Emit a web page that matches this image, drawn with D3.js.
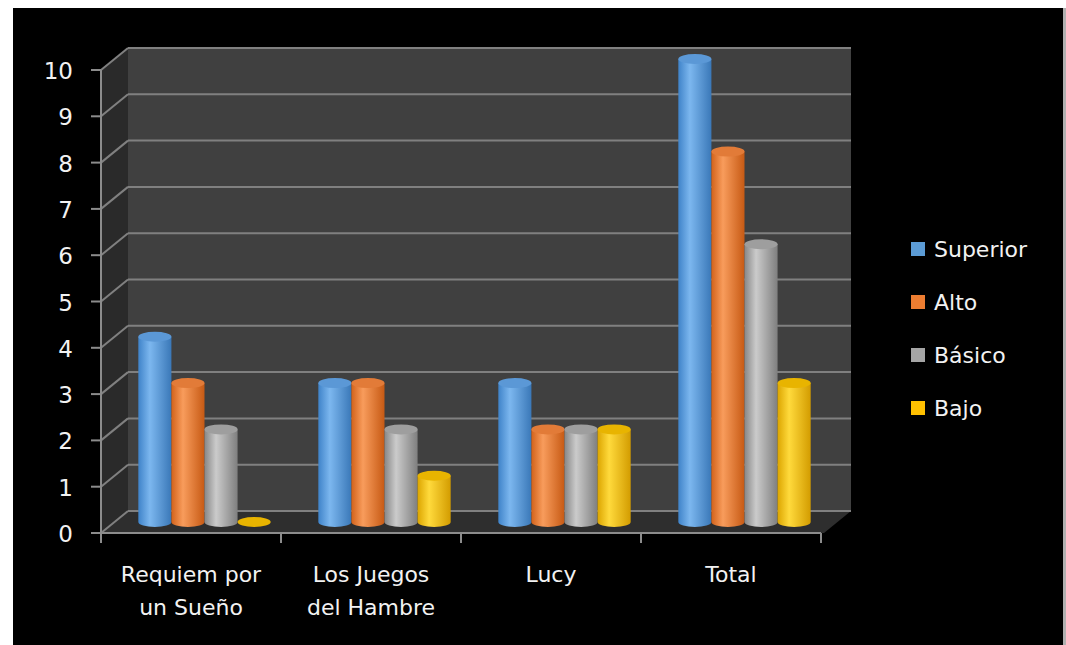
<!DOCTYPE html>
<html>
<head>
<meta charset="utf-8">
<script src="https://cdn.jsdelivr.net/npm/d3@7"></script>
<style>
  body { margin: 0; background: #ffffff; }
  text { font-family: "DejaVu Sans", "Open Sans", sans-serif; fill: #f2f2f2; }
</style>
</head>
<body>
<div id="chart"></div>
<script>
// chart data
var categories = [["Requiem por", "un Sueño"], ["Los Juegos", "del Hambre"], ["Lucy"], ["Total"]];
var seriesNames = ["Superior", "Alto", "Básico", "Bajo"];
var superior = [4, 3, 3, 10];
var alto = [3, 3, 2, 8];
var basico = [2, 2, 2, 6];
var bajo = [0, 1, 2, 3];
var yTicks = [0, 1, 2, 3, 4, 5, 6, 7, 8, 9, 10];

var seriesValues = [superior, alto, basico, bajo];

// colours: [edge, highlight, dark edge, top]
var palette = [
  ["#3f83c9", "#7cb7ef", "#3a78b8", "#5b98d6"],
  ["#d2621a", "#f89c5c", "#c75a14", "#e27b38"],
  ["#878787", "#cbcbcb", "#7f7f7f", "#9e9e9e"],
  ["#dca500", "#ffda3c", "#d39c00", "#e8b400"]
];
var legendColors = ["#5b9bd5", "#ed7d31", "#a5a5a5", "#ffc000"];

var svgWidth = 1066;
var svgHeight = 645;

// 3D depth offset of the plot box
var depthX = 27;
var depthY = -22;

var svg = d3.select("#chart")
  .append("svg")
  .attr("width", svgWidth)
  .attr("height", svgHeight);

// black chart background
svg.append("rect")
  .attr("x", 13).attr("y", 8)
  .attr("width", 1050).attr("height", 637)
  .attr("fill", "#000000");
svg.append("rect")
  .attr("x", 1063).attr("y", 8)
  .attr("width", 3).attr("height", 637)
  .attr("fill", "#b0b0b0");

// scales (front plane)
var xScale = d3.scaleBand()
  .domain(d3.range(categories.length))
  .range([101, 821]);

var yScale = d3.scaleLinear()
  .domain([0, 10])
  .range([533, 70]);

var x0 = xScale.range()[0], x1 = xScale.range()[1];
var yTop = yScale(10), yBot = yScale(0);

// walls
svg.append("polygon")
  .attr("points", [[x0, yTop], [x0 + depthX, yTop + depthY], [x0 + depthX, yBot + depthY], [x0, yBot]].join(" "))
  .attr("fill", "#2a2a2a");
svg.append("polygon")
  .attr("points", [[x0 + depthX, yTop + depthY], [x1 + depthX + 3, yTop + depthY], [x1 + depthX + 3, yBot + depthY], [x0 + depthX, yBot + depthY]].join(" "))
  .attr("fill", "#404040");
svg.append("polygon")
  .attr("points", [[x0, yBot], [x0 + depthX, yBot + depthY], [x1 + depthX + 3, yBot + depthY], [x1 + 3, yBot]].join(" "))
  .attr("fill", "#2e2e2e");

// gridlines on back and side wall
var grid = svg.append("g").attr("stroke", "#808080").attr("stroke-width", 2);
grid.selectAll("line.back")
  .data(yTicks)
  .enter()
  .append("line")
  .attr("x1", x0 + depthX).attr("x2", x1 + depthX + 3)
  .attr("y1", d => yScale(d) + depthY).attr("y2", d => yScale(d) + depthY);
grid.selectAll("line.side")
  .data(yTicks)
  .enter()
  .append("line")
  .attr("x1", x0).attr("x2", x0 + depthX)
  .attr("y1", d => yScale(d)).attr("y2", d => yScale(d) + depthY);

// axes
var axisColor = "#8c8c8c";
svg.append("line")
  .attr("x1", x0).attr("x2", x0)
  .attr("y1", yTop).attr("y2", yBot)
  .attr("stroke", axisColor).attr("stroke-width", 2);
svg.append("line")
  .attr("x1", x0 - 10).attr("x2", x1)
  .attr("y1", yBot).attr("y2", yBot)
  .attr("stroke", axisColor).attr("stroke-width", 2);

svg.selectAll("line.ytick")
  .data(yTicks)
  .enter()
  .append("line")
  .attr("x1", x0 - 10).attr("x2", x0)
  .attr("y1", d => yScale(d)).attr("y2", d => yScale(d))
  .attr("stroke", axisColor).attr("stroke-width", 2);

svg.selectAll("text.ylabel")
  .data(yTicks)
  .enter()
  .append("text")
  .attr("x", 73)
  .attr("y", d => yScale(d) + 9)
  .attr("text-anchor", "end")
  .style("font-size", "23px")
  .text(d => d);

var xTickPos = d3.range(categories.length).map(i => xScale(i)).concat([x1]);
svg.selectAll("line.xtick")
  .data(xTickPos)
  .enter()
  .append("line")
  .attr("x1", d => d).attr("x2", d => d)
  .attr("y1", yBot).attr("y2", yBot + 10)
  .attr("stroke", axisColor).attr("stroke-width", 2);

// category labels
var catLabels = svg.selectAll("text.cat")
  .data(categories)
  .enter()
  .append("text")
  .attr("text-anchor", "middle")
  .style("font-size", "22px")
  .attr("transform", (d, i) => `translate(${xScale(i) + xScale.bandwidth() / 2}, 582)`);
catLabels.selectAll("tspan")
  .data(d => d)
  .enter()
  .append("tspan")
  .attr("x", 0)
  .attr("y", (d, i) => i * 33)
  .text(d => d);

// gradients for cylinders
var defs = svg.append("defs");
palette.forEach(function(c, i) {
  var g = defs.append("linearGradient")
    .attr("id", "cyl" + i)
    .attr("x1", "0%").attr("x2", "100%")
    .attr("y1", "0%").attr("y2", "0%");
  g.append("stop").attr("offset", "0%").attr("stop-color", c[0]);
  g.append("stop").attr("offset", "35%").attr("stop-color", c[1]);
  g.append("stop").attr("offset", "100%").attr("stop-color", c[2]);
});

// bars as cylinders placed at mid depth
var inner = d3.scaleBand()
  .domain(d3.range(seriesNames.length))
  .range([0, xScale.bandwidth()])
  .paddingOuter(0.72)
  .paddingInner(0);

var barW = inner.bandwidth();
var ry = 5;

var barData = [];
categories.forEach(function(cat, ci) {
  seriesValues.forEach(function(vals, si) {
    barData.push({ ci: ci, si: si, value: vals[ci] });
  });
});

var bars = svg.selectAll("g.bar")
  .data(barData)
  .enter()
  .append("g")
  .attr("class", "bar");

bars.each(function(d) {
  var g = d3.select(this);
  var left = xScale(d.ci) + inner(d.si) + depthX / 2;
  var cx = left + barW / 2;
  var yb = yScale(0) + depthY / 2;
  var yt = yScale(d.value) + depthY / 2;
  if (d.value > 0) {
    g.append("path")
      .attr("d", `M${left},${yt} L${left},${yb} A${barW / 2},${ry} 0 0 0 ${left + barW},${yb} L${left + barW},${yt} Z`)
      .attr("fill", "url(#cyl" + d.si + ")");
  }
  g.append("ellipse")
    .attr("cx", cx).attr("cy", yt)
    .attr("rx", barW / 2).attr("ry", ry)
    .attr("fill", palette[d.si][3]);
});

// legend
var legend = svg.selectAll("g.legend")
  .data(seriesNames)
  .enter()
  .append("g")
  .attr("transform", (d, i) => `translate(911, ${242 + i * 53})`);
legend.append("rect")
  .attr("width", 14).attr("height", 14)
  .attr("fill", (d, i) => legendColors[i]);
legend.append("text")
  .attr("x", 23)
  .attr("y", 15)
  .style("font-size", "22px")
  .text(d => d);
</script>
</body>
</html>
